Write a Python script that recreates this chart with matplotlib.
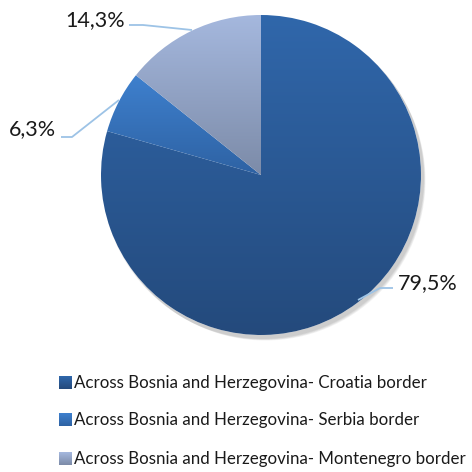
import numpy as np
import matplotlib
matplotlib.use("Agg")
import matplotlib.pyplot as plt
from matplotlib.colors import LinearSegmentedColormap
from matplotlib.patches import Circle

plt.rcParams['font.family'] = ['Lato', 'DejaVu Sans']

categories = ["Across Bosnia and Herzegovina- Croatia border",
              "Across Bosnia and Herzegovina- Serbia border",
              "Across Bosnia and Herzegovina- Montenegro border"]
values = [79.5, 6.3, 14.3]
labels = ["79,5%", "6,3%", "14,3%"]
grad_top = ["#3067AB", "#3E80CE", "#A5B8DE"]
grad_bot = ["#244A7C", "#2E62A3", "#7C8BA8"]

W = H = 472
fig = plt.figure(figsize=(4.72, 4.72), dpi=100)
ax = fig.add_axes([0, 0, 1, 1])
ax.set_xlim(0, W)
ax.set_ylim(0, H)
ax.axis('off')

cx, cy, R = 261, H - 175, 160

# soft shadow
for i, a in enumerate([0.05, 0.05, 0.05, 0.05]):
    ax.add_patch(Circle((cx + 2 + i * 0.8, cy - 3 - i * 0.8), R + 1 - i * 0.3,
                        facecolor='black', alpha=a, edgecolor='none', zorder=1))
ax.add_patch(Circle((cx, cy), R, facecolor='white', edgecolor='none', zorder=1.5))

wedges, _ = ax.pie(values, center=(cx, cy), radius=R, startangle=90,
                   counterclock=False, wedgeprops=dict(linewidth=0))
ax.set_xlim(0, W)
ax.set_ylim(0, H)
ax.set_aspect('auto')

for w, t, b in zip(wedges, grad_top, grad_bot):
    w.set_facecolor('none')
    w.set_zorder(2)
    ext = w.get_path().get_extents(w.get_patch_transform())
    cmap = LinearSegmentedColormap.from_list('g', [b, t])
    grad = np.linspace(0, 1, 256).reshape(-1, 1)
    im = ax.imshow(grad, cmap=cmap, origin='lower', aspect='auto',
                   extent=[ext.x0, ext.x1, ext.y0, ext.y1], zorder=2,
                   interpolation='bilinear')
    im.set_clip_path(w)

# leader lines
lc = "#9DC3E6"
lines = [
    [(393, 288), (380, 288), (358, 300)],
    [(61, 137), (72, 137), (119, 100)],
    [(129, 25), (143, 25), (192, 30)],
]
for pts in lines:
    xs = [p[0] for p in pts]
    ys = [H - p[1] for p in pts]
    ax.plot(xs, ys, color=lc, lw=1.3, zorder=3, solid_capstyle='butt')

fs = 15.5
ax.text(398, H - 283, labels[0], fontsize=fs, ha='left', va='center', color='#1a1a1a')
ax.text(56, H - 129, labels[1], fontsize=fs, ha='right', va='center', color='#1a1a1a')
ax.text(125, H - 20, labels[2], fontsize=fs, ha='right', va='center', color='#1a1a1a')

# legend
ys_leg = [383, 420, 459]
for cat, t, b, y in zip(categories, grad_top, grad_bot, ys_leg):
    sq = 13
    grad = np.linspace(0, 1, 32).reshape(-1, 1)
    cmap = LinearSegmentedColormap.from_list('g', [b, t])
    ax.imshow(grad, cmap=cmap, origin='lower', aspect='auto',
              extent=[59, 59 + sq, H - y - sq / 2, H - y + sq / 2], zorder=3)
    ax.text(74, H - y, cat, fontsize=12.2, ha='left', va='center', color='#1a1a1a')

ax.set_xlim(0, W)
ax.set_ylim(0, H)
fig.savefig("out.png", dpi=100)
